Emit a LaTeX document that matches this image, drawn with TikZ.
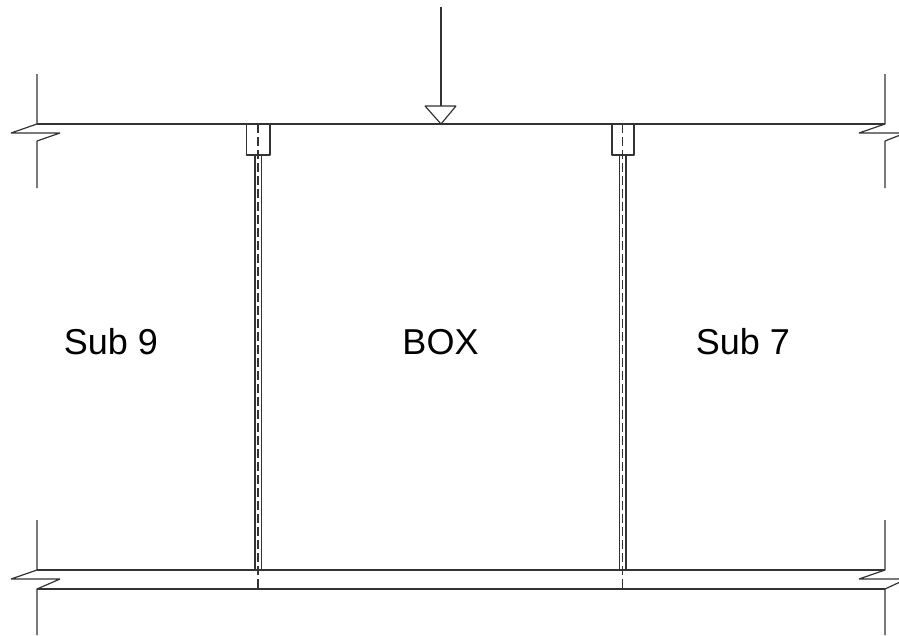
\documentclass[tikz,border=0pt]{standalone}
\usepackage{fontspec}
\setmainfont{Liberation Sans}
\tikzset{
  wall/.style={draw=black!80,line width=1.2pt,line join=bevel},
  centre/.style={draw=black!80,line width=1.2pt,dash pattern=on 9pt off 4pt},
  lbl/.style={inner sep=0pt,font=\fontsize{36}{40}\selectfont,text=black}
}
\begin{document}
\begin{tikzpicture}[x=1pt,y=-1pt]
\useasboundingbox (0,0) rectangle (899,635);
% top beam with break marks
\draw[wall] (37,74) -- (37,124) -- (11,133) -- (60,133) -- (37,141) -- (37,188);
\draw[wall] (37,124) -- (885,124);
\draw[wall] (885,74) -- (885,124) -- (859,133) -- (899,133);
\draw[wall] (899,135.5) -- (885,141) -- (885,188);
% bottom beam with break marks
\draw[wall] (37,520) -- (37,570) -- (11,579) -- (60,579) -- (37,589) -- (37,635);
\draw[wall] (37,570) -- (885,570);
\draw[wall] (37,589) -- (885,589);
\draw[wall] (885,520) -- (885,570) -- (859,579) -- (899,579);
\draw[wall] (899,582.5) -- (885,589) -- (885,635);
% left hanger
\draw[wall] (246.5,124) -- (246.5,155) -- (270,155) -- (270,124);
\draw[wall] (255,155) -- (255,570);
\draw[wall] (261.5,155) -- (261.5,570);
\draw[centre] (258,124) -- (258,589);
% right hanger
\draw[wall] (612,124) -- (612,155) -- (634,155) -- (634,124);
\draw[wall] (619.5,155) -- (619.5,570);
\draw[wall] (626,155) -- (626,570);
\draw[centre] (622.5,124) -- (622.5,589);
% load arrow
\coordinate (loadtop) at (441,7);
\coordinate (loadbase) at (441,106);
\draw[wall] (loadtop) -- (loadbase);
\draw[wall] (425,106) -- (456,106) -- (441,124) -- cycle;
% labels
\node[lbl] (sub9) at (111,342) {Sub 9};
\node[lbl] (box) at (440.5,342) {BOX};
\node[lbl] (sub7) at (743,342) {Sub 7};
\end{tikzpicture}
\end{document}
